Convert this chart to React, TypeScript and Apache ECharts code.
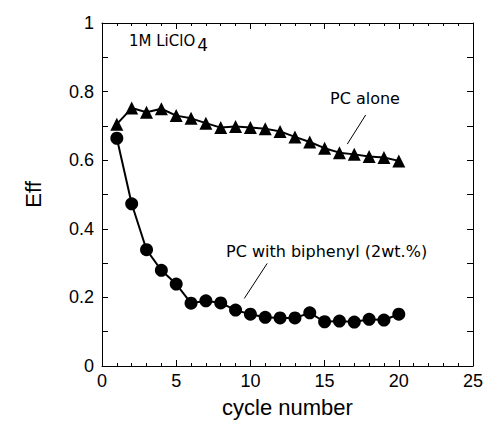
import React, { useEffect, useRef } from "react";
import * as echarts from "echarts";

const cycles = [1, 2, 3, 4, 5, 6, 7, 8, 9, 10, 11, 12, 13, 14, 15, 16, 17, 18, 19, 20];
const pcAlone = [0.705, 0.752, 0.74, 0.75, 0.73, 0.722, 0.708, 0.695, 0.698, 0.695, 0.692, 0.684, 0.668, 0.653, 0.635, 0.622, 0.617, 0.611, 0.608, 0.598];
const pcBiphenyl = [0.664, 0.473, 0.339, 0.279, 0.239, 0.183, 0.19, 0.184, 0.163, 0.151, 0.142, 0.14, 0.14, 0.155, 0.129, 0.131, 0.128, 0.136, 0.134, 0.151];
const xTicks = [0, 5, 10, 15, 20, 25];
const yTickLabels: Record<string, string> = { "0": "0", "0.2": "0.2", "0.4": "0.4", "0.6": "0.6", "0.8": "0.8", "1": "1" };

const leaderAlone = [[17.77, 0.732], [16.53, 0.647]];
const leaderBiphenyl = [[11.13, 0.299], [9.59, 0.197]];

export default function App() {
  const ref = useRef<HTMLDivElement>(null);
  useEffect(() => {
    if (!ref.current) return;
    const chart = echarts.init(ref.current, null, { renderer: "svg" });
    const axisCommon = {
      axisLine: { show: true, onZero: false, lineStyle: { color: "#000", width: 1 } },
      axisTick: { show: true, inside: true, length: 6, lineStyle: { color: "#000" } },
      minorTick: { show: true, splitNumber: 5, length: 3, lineStyle: { color: "#000" } },
      splitLine: { show: false },
    };
    const tickFont = { fontFamily: "Liberation Sans", fontSize: 18, color: "#000" };
    chart.setOption({
      animation: false,
      backgroundColor: "#fff",
      grid: { left: 102, right: 15, top: 23, bottom: 50 },
      xAxis: [
        {
          type: "value", min: xTicks[0], max: xTicks[xTicks.length - 1], interval: 5,
          ...axisCommon,
          axisLabel: { ...tickFont, margin: 6 },
          name: "cycle number", nameLocation: "middle", nameGap: 30,
          nameTextStyle: { fontFamily: "Liberation Sans", fontSize: 22, color: "#000" },
        },
        {
          type: "value", position: "top", min: 0, max: 25, interval: 5,
          ...axisCommon, axisLabel: { show: false },
        },
      ],
      yAxis: [
        {
          type: "value", min: 0, max: 1, interval: 0.2,
          ...axisCommon,
          minorTick: { ...axisCommon.minorTick, splitNumber: 2, length: 6 },
          axisLabel: { ...tickFont, margin: 8, formatter: (v: number) => yTickLabels[String(+v.toFixed(1))] ?? String(v) },
          name: "Eff", nameLocation: "middle", nameGap: 58, nameRotate: 90,
          nameTextStyle: { fontFamily: "Liberation Sans", fontSize: 22, color: "#000" },
        },
        {
          type: "value", position: "right", min: 0, max: 1, interval: 0.2,
          ...axisCommon,
          minorTick: { ...axisCommon.minorTick, splitNumber: 2, length: 6 },
          axisLabel: { show: false },
        },
      ],
      series: [
        {
          type: "line", name: "PC alone",
          data: cycles.map((c, i) => [c, pcAlone[i]]),
          symbol: "triangle", symbolSize: 13,
          itemStyle: { color: "#000" }, lineStyle: { color: "#000", width: 2 },
          markLine: {
            symbol: "none", silent: true, label: { show: false },
            lineStyle: { color: "#000", width: 1, type: "solid" },
            data: [[{ coord: leaderAlone[0] }, { coord: leaderAlone[1] }]],
          },
        },
        {
          type: "line", name: "PC with biphenyl",
          data: cycles.map((c, i) => [c, pcBiphenyl[i]]),
          symbol: "circle", symbolSize: 13,
          itemStyle: { color: "#000" }, lineStyle: { color: "#000", width: 2 },
          markLine: {
            symbol: "none", silent: true, label: { show: false },
            lineStyle: { color: "#000", width: 1, type: "solid" },
            data: [[{ coord: leaderBiphenyl[0] }, { coord: leaderBiphenyl[1] }]],
          },
        },
      ],
      graphic: [
        {
          type: "text", left: 129, top: 33,
          style: {
            text: "1M LiClO{s|4}",
            rich: { s: { fontSize: 17, fontFamily: "DejaVu Sans", fill: "#000", padding: [9, 0, 0, 2] } },
            fontFamily: "DejaVu Sans", fontSize: 15, fill: "#000",
          },
        },
        {
          type: "text", left: 330, top: 90,
          style: { text: "PC alone", fontFamily: "DejaVu Sans", fontSize: 16, fill: "#000" },
        },
        {
          type: "text", left: 226, top: 243,
          style: { text: "PC with biphenyl (2wt.%)", fontFamily: "DejaVu Sans", fontSize: 16, fill: "#000" },
        },
      ],
    });
    return () => chart.dispose();
  }, []);
  return <div ref={ref} style={{ width: 488, height: 423, position: "absolute", left: 0, top: 0 }} />;
}
